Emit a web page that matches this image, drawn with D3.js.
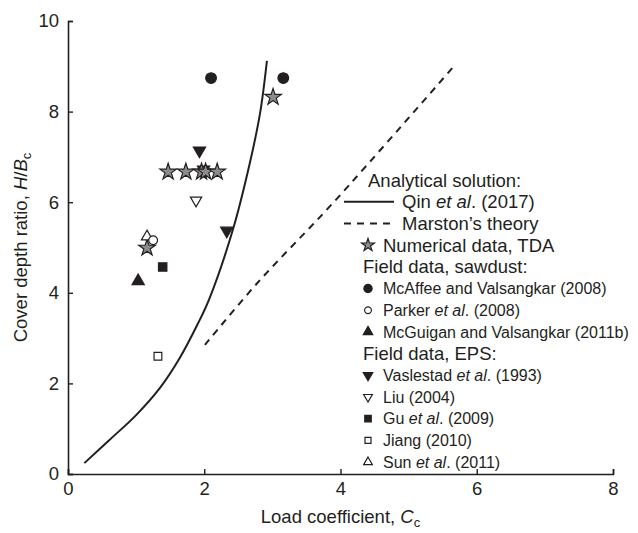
<!DOCTYPE html>
<html>
<head>
<meta charset="utf-8">
<script src="https://cdn.jsdelivr.net/npm/d3@7"></script>
<style>
body { margin: 0; background: #fff; }
text { font-family: "Liberation Sans", Arial, sans-serif; fill: #231f20; }
</style>
</head>
<body>
<script>
// series values: [Cc, H/Bc]
var qin = [[0.24,0.24],[0.6,0.74],[1.0,1.3],[1.35,1.9],[1.64,2.56],[1.9,3.3],[2.07,3.85],[2.42,5.39],[2.67,6.87],[2.82,7.97],[2.92,9.12]];
var marston = [[2.01,2.85],[2.77,4.2],[3.9,6.0],[5.64,8.96]];
var tda = [[3.01,8.32],[1.47,6.67],[1.73,6.67],[1.96,6.67],[2.02,6.67],[2.19,6.67],[1.16,4.99]];
var mcaffee = [[2.1,8.74],[3.16,8.74]];
var parker = [[1.25,5.16]];
var mcguigan = [[1.03,4.26]];
var vaslestad = [[1.93,7.14],[1.99,6.72],[2.33,5.37]];
var liu = [[1.88,6.04]];
var gu = [[1.39,4.57]];
var jiang = [[1.32,2.6]];
var sun = [[1.16,5.24]];

var xTicks = [0, 2, 4, 6, 8];
var yTicks = [0, 2, 4, 6, 8, 10];

var ink = "#231f20";
var W = 638, H = 533;

var svg = d3.select("body").append("svg")
  .attr("width", W)
  .attr("height", H);

var x = d3.scaleLinear().domain([0, 8]).range([68, 613]);
var y = d3.scaleLinear().domain([0, 10]).range([474, 21]);

// axes, ticks pointing inward
var gx = svg.append("g")
  .attr("transform", "translate(0," + y(0) + ")")
  .call(d3.axisBottom(x).tickValues(xTicks).tickSize(-5).tickPadding(8));
var gy = svg.append("g")
  .attr("transform", "translate(" + x(0) + ",0)")
  .call(d3.axisLeft(y).tickValues(yTicks).tickSize(-5).tickPadding(9));

[gx, gy].forEach(function(g) {
  g.select(".domain").attr("stroke", ink).attr("stroke-width", 1.6);
  g.selectAll(".tick line").attr("stroke", ink).attr("stroke-width", 1.4);
  g.selectAll(".tick text").attr("font-size", 18.5).attr("fill", ink)
    .attr("font-family", "Liberation Sans, Arial, sans-serif");
});

// axis titles
var xt = svg.append("text")
  .attr("x", (x(0) + x(8)) / 2)
  .attr("y", 523)
  .attr("text-anchor", "middle")
  .attr("font-size", 18.5);
xt.append("tspan").text("Load coefficient, ");
xt.append("tspan").attr("font-style", "italic").text("C");
xt.append("tspan").attr("font-size", 13).attr("dy", 4).text("c");

var yt = svg.append("text")
  .attr("transform", "translate(27," + (y(0) + y(10)) / 2 + ") rotate(-90)")
  .attr("text-anchor", "middle")
  .attr("font-size", 18.5);
yt.append("tspan").text("Cover depth ratio, ");
yt.append("tspan").attr("font-style", "italic").text("H");
yt.append("tspan").text("/");
yt.append("tspan").attr("font-style", "italic").text("B");
yt.append("tspan").attr("font-size", 13).attr("dy", 4).text("c");

// analytical curves
var line = d3.line()
  .x(function(d) { return x(d[0]); })
  .y(function(d) { return y(d[1]); })
  .curve(d3.curveCatmullRom.alpha(0.5));

svg.append("path")
  .attr("d", line(marston))
  .attr("fill", "none")
  .attr("stroke", ink)
  .attr("stroke-width", 2)
  .attr("stroke-dasharray", "7,6");

svg.append("path")
  .attr("d", line(qin))
  .attr("fill", "none")
  .attr("stroke", ink)
  .attr("stroke-width", 2);

// marker styles
var styles = {
  tda:       { shape: d3.symbolStar,     size: 85, fill: "#8c8c8c", rot: 0 },
  mcaffee:   { shape: d3.symbolCircle,   size: 90, fill: ink,  rot: 0 },
  parker:    { shape: d3.symbolCircle,   size: 60, fill: "#fff", rot: 0 },
  mcguigan:  { shape: d3.symbolTriangle, size: 65, fill: ink,  rot: 0 },
  vaslestad: { shape: d3.symbolTriangle, size: 65, fill: ink,  rot: 180 },
  liu:       { shape: d3.symbolTriangle, size: 55, fill: "#fff", rot: 180 },
  gu:        { shape: d3.symbolSquare,   size: 70, fill: ink,  rot: 0 },
  jiang:     { shape: d3.symbolSquare,   size: 60, fill: "#fff", rot: 0 },
  sun:       { shape: d3.symbolTriangle, size: 55, fill: "#fff", rot: 0 }
};

function drawPoints(data, key) {
  var s = styles[key];
  svg.append("g").selectAll("path")
    .data(data)
    .enter().append("path")
    .attr("d", d3.symbol().type(s.shape).size(s.size))
    .attr("transform", function(d) {
      return "translate(" + x(d[0]) + "," + y(d[1]) + ") rotate(" + s.rot + ")";
    })
    .attr("fill", s.fill)
    .attr("stroke", ink)
    .attr("stroke-width", 1.2);
}

drawPoints(vaslestad, "vaslestad");
drawPoints(tda, "tda");
drawPoints(mcaffee, "mcaffee");
drawPoints(mcguigan, "mcguigan");
drawPoints(liu, "liu");
drawPoints(gu, "gu");
drawPoints(jiang, "jiang");
drawPoints(sun, "sun");
drawPoints(parker, "parker");

// legend (big = heading-size text)
var legendRows = [
  { kind: "head", big: 1, parts: [["Analytical solution:", 0]] },
  { kind: "solid", big: 1, parts: [["Qin ", 0], ["et al", 1], [". (2017)", 0]] },
  { kind: "dash", big: 1, parts: [["Marston\u2019s theory", 0]] },
  { kind: "tda", big: 1, parts: [["Numerical data, TDA", 0]] },
  { kind: "head2", big: 1, parts: [["Field data, sawdust:", 0]] },
  { kind: "mcaffee", big: 0, parts: [["McAffee and Valsangkar (2008)", 0]] },
  { kind: "parker", big: 0, parts: [["Parker ", 0], ["et al", 1], [". (2008)", 0]] },
  { kind: "mcguigan", big: 0, parts: [["McGuigan and Valsangkar (2011b)", 0]] },
  { kind: "head2", big: 1, parts: [["Field data, EPS:", 0]] },
  { kind: "vaslestad", big: 0, parts: [["Vaslestad ", 0], ["et al", 1], [". (1993)", 0]] },
  { kind: "liu", big: 0, parts: [["Liu (2004)", 0]] },
  { kind: "gu", big: 0, parts: [["Gu ", 0], ["et al", 1], [". (2009)", 0]] },
  { kind: "jiang", big: 0, parts: [["Jiang (2010)", 0]] },
  { kind: "sun", big: 0, parts: [["Sun ", 0], ["et al", 1], [". (2011)", 0]] }
];

var legend = svg.append("g");
legendRows.forEach(function(r, i) {
  var cy = 180 + i * 21.7;
  var tx = 383;
  if (r.kind === "head") tx = 368;
  else if (r.kind === "head2") tx = 363;
  else if (r.kind === "solid" || r.kind === "dash") {
    tx = 402;
    legend.append("line")
      .attr("x1", 344).attr("x2", 394)
      .attr("y1", cy).attr("y2", cy)
      .attr("stroke", ink)
      .attr("stroke-width", 2)
      .attr("stroke-dasharray", r.kind === "dash" ? "7,6" : null);
  } else {
    var s = styles[r.kind];
    legend.append("path")
      .attr("d", d3.symbol().type(s.shape).size(s.size * 0.6))
      .attr("transform", "translate(368," + cy + ") rotate(" + s.rot + ")")
      .attr("fill", s.fill)
      .attr("stroke", ink)
      .attr("stroke-width", 1.2);
  }
  var fs = r.big ? 18.5 : 16;
  var t = legend.append("text")
    .attr("x", tx)
    .attr("y", cy + fs * 0.36)
    .attr("font-size", fs);
  r.parts.forEach(function(p) {
    t.append("tspan").attr("font-style", p[1] ? "italic" : null).text(p[0]);
  });
});
</script>
</body>
</html>
